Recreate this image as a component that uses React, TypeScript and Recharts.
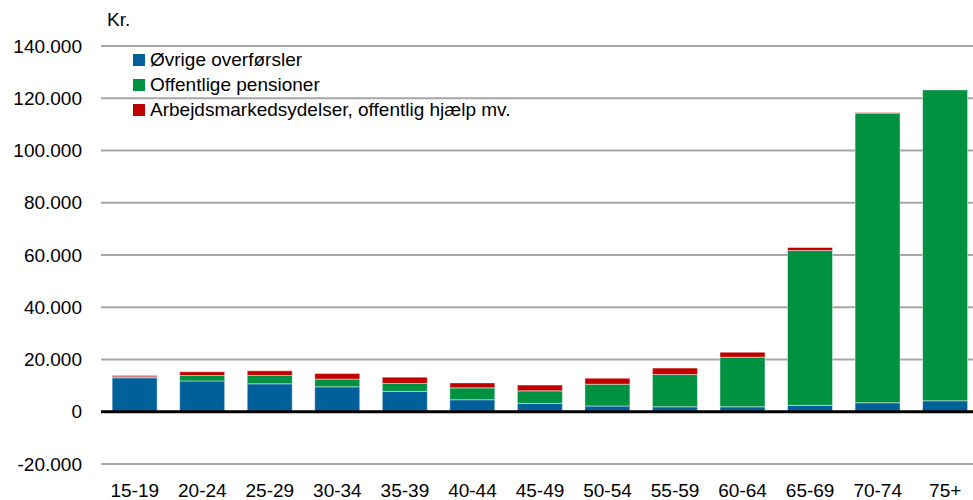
import { BarChart, Bar, XAxis, YAxis, CartesianGrid, ReferenceLine } from 'recharts';

const ageGroups = ['15-19', '20-24', '25-29', '30-34', '35-39', '40-44', '45-49', '50-54', '55-59', '60-64', '65-69', '70-74', '75+'];
const oevrige = [13000, 11800, 10700, 9550, 7800, 4600, 3200, 2200, 1900, 1900, 2450, 3450, 4200];
const pensioner = [400, 2100, 3200, 2950, 3050, 4550, 4800, 8350, 12350, 19000, 59250, 110850, 119000];
const ydelser = [500, 1400, 1750, 2150, 2400, 1900, 2200, 2300, 2450, 1900, 1150, 250, 0];
const yTicks = [-20000, 0, 20000, 40000, 60000, 80000, 100000, 120000, 140000];

const data = ageGroups.map((age, i) => ({
    age,
    oevrige: oevrige[i],
    pensioner: pensioner[i],
    ydelser: ydelser[i],
}));

const series = [
    { key: 'oevrige', name: 'Øvrige overførsler', color: '#00609a' },
    { key: 'pensioner', name: 'Offentlige pensioner', color: '#009141' },
    { key: 'ydelser', name: 'Arbejdsmarkedsydelser, offentlig hjælp mv.', color: '#c00000' },
];

const font = '"Liberation Sans", Arial, sans-serif';

function formatKr(v: number) {
    const s = Math.abs(v).toString().replace(/\B(?=(\d{3})+(?!\d))/g, '.');
    return v < 0 ? '-' + s : s;
}

function LegendBox() {
    return (
        <div style={{ position: 'absolute', left: 133, top: 47, fontFamily: font, fontSize: 19, color: '#000' }}>
            {series.map((s) => (
                <div key={s.key} style={{ display: 'flex', alignItems: 'center', height: 25 }}>
                    <span style={{ display: 'inline-block', width: 12, height: 12, background: s.color, marginRight: 5 }} />
                    <span>{s.name}</span>
                </div>
            ))}
        </div>
    );
}

export default function App() {
    return (
        <div style={{ position: 'fixed', left: 0, top: 0, width: 973, height: 500, overflow: 'hidden', background: '#fff' }}>
            <BarChart
                width={990}
                height={500}
                data={data}
                barCategoryGap="16.5%"
                margin={{ top: 46, right: 11, left: 0, bottom: 6 }}
            >
                <CartesianGrid vertical={false} stroke="#a6a6a6" strokeWidth={2} />
                <XAxis
                    dataKey="age"
                    height={30}
                    axisLine={false}
                    tickLine={false}
                    tickMargin={14}
                    tick={{ fill: '#000', fontSize: 19, fontFamily: font }}
                    interval={0}
                />
                <YAxis
                    width={101}
                    domain={[-20000, 140000]}
                    ticks={yTicks}
                    axisLine={false}
                    tickLine={false}
                    tickMargin={13}
                    tickFormatter={formatKr}
                    tick={{ fill: '#000', fontSize: 19, fontFamily: font }}
                />
                {series.map((s) => (
                    <Bar
                        key={s.key}
                        dataKey={s.key}
                        name={s.name}
                        stackId="a"
                        fill={s.color}
                        stroke="#ffffff"
                        strokeOpacity={0.45}
                        strokeWidth={1}
                        isAnimationActive={false}
                    />
                ))}
                <ReferenceLine y={0} stroke="#000" strokeWidth={3} />
            </BarChart>
            <div style={{ position: 'absolute', left: 107, top: 9, fontFamily: font, fontSize: 19 }}>Kr.</div>
            <LegendBox />
        </div>
    );
}
